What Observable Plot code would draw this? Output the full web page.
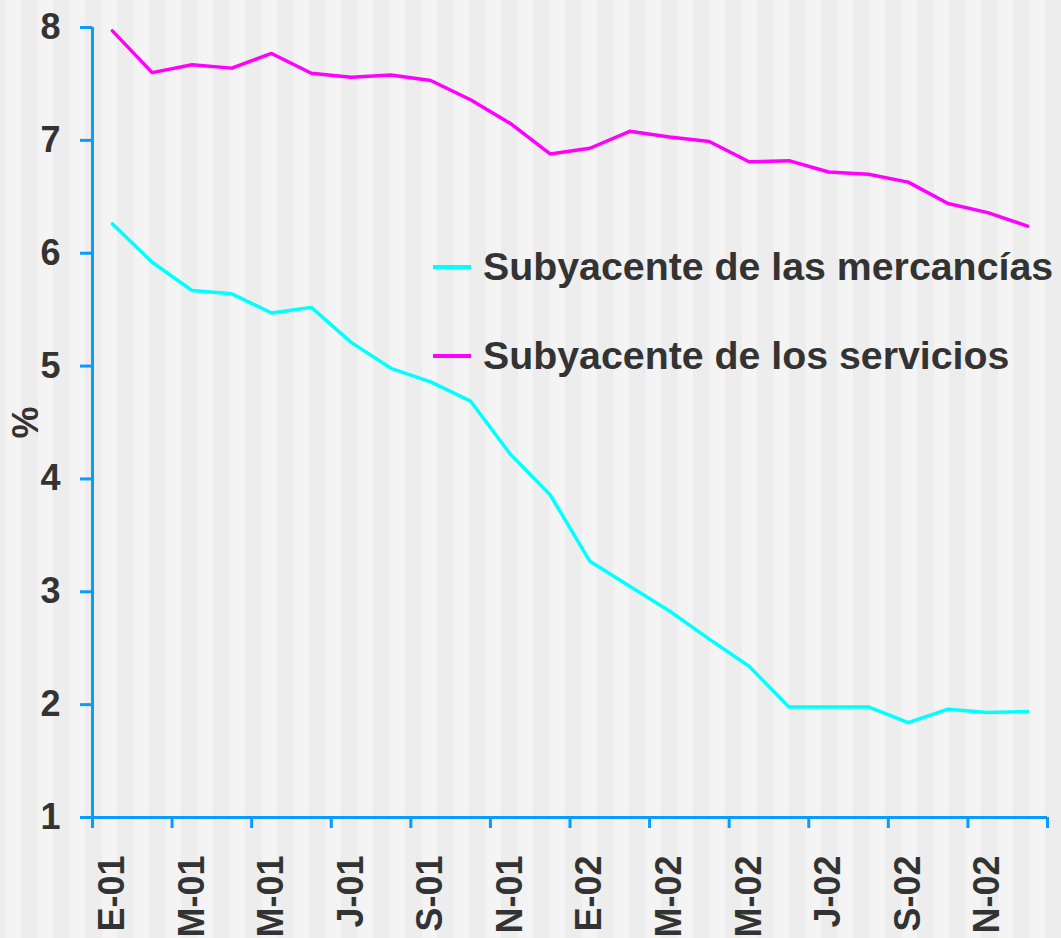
<!DOCTYPE html>
<html>
<head>
<meta charset="utf-8">
<script src="https://cdn.jsdelivr.net/npm/d3@7"></script>
<script src="https://cdn.jsdelivr.net/npm/@observablehq/plot@0.6"></script>
<style>
  html, body { margin: 0; padding: 0; }
  body {
    width: 1061px; height: 938px; overflow: hidden;
    background-color: #ededed;
    background-image: linear-gradient(90deg, #f4f4f4 0px, #f4f4f4 15px, #ededed 15px, #ededed 32px);
    background-size: 32px 100%;
    background-position: 6px 0;
    background-repeat: repeat-x;
    font-family: "Liberation Sans", Arial, sans-serif;
  }
  #wrap { position: relative; width: 1061px; height: 938px; }
  #legend { position: absolute; left: 433px; top: 244px; }
  .item { display: flex; align-items: center; height: 45px; margin-bottom: 44px; }
  .swatch { width: 38px; height: 4px; margin-right: 12px; }
  .lab { font-size: 39.3px; font-weight: bold; color: #333333; white-space: nowrap; }
</style>
</head>
<body>
<div id="wrap"><div id="legend"></div></div>
<script>
// Months (Jan 2001 – Dec 2002)
const months = ["E-01","F-01","M-01","A-01","M-01","J-01","J-01","A-01","S-01","O-01","N-01","D-01",
                "E-02","F-02","M-02","A-02","M-02","J-02","J-02","A-02","S-02","O-02","N-02","D-02"];
// Tick labels shown every two months
const tickLabels = ["E-01","M-01","M-01","J-01","S-01","N-01","E-02","M-02","M-02","J-02","S-02","N-02"];
const yTicks = [1,2,3,4,5,6,7,8];

const seriesNames = ["Subyacente de las mercancías", "Subyacente de los servicios"];
const seriesColors = ["#00FFFF", "#FF00FF"];

const mercancias = [6.26,5.92,5.67,5.64,5.47,5.52,5.21,4.98,4.86,4.69,4.22,3.86,
                    3.27,3.05,2.83,2.58,2.34,1.98,1.98,1.98,1.84,1.96,1.93,1.94];
const servicios  = [7.97,7.60,7.67,7.64,7.77,7.595,7.56,7.58,7.53,7.36,7.15,6.88,
                    6.93,7.08,7.03,6.99,6.81,6.82,6.72,6.70,6.63,6.44,6.36,6.24];

const data = [];
months.forEach((m, i) => {
  data.push({month: m, pos: i + 0.5, value: mercancias[i], series: seriesNames[0]});
  data.push({month: m, pos: i + 0.5, value: servicios[i], series: seriesNames[1]});
});

const boundaryTicks = d3.range(0, months.length + 1, 2);
const labelPositions = tickLabels.map((_, k) => k * 2 + 0.5);

const axisColor = "#0A9BFF";
const textColor = "#333333";
const font = "Liberation Sans, Arial, sans-serif";

const chart = Plot.plot({
  width: 1061,
  height: 938,
  marginLeft: 92,
  marginRight: 14,
  marginTop: 27,
  marginBottom: 121,
  style: {background: "transparent", fontFamily: font},
  x: {type: "linear", domain: [0, months.length]},
  y: {domain: [1, 8]},
  color: {domain: seriesNames, range: seriesColors},
  marks: [
    Plot.line(data, {x: "pos", y: "value", z: "series", stroke: "series", strokeWidth: 3.5}),
    Plot.ruleX([0], {stroke: axisColor, strokeWidth: 3}),
    Plot.ruleY([1], {stroke: axisColor, strokeWidth: 3}),
    Plot.axisY(yTicks, {
      tickSize: 12, tickPadding: 20, stroke: axisColor, strokeWidth: 3, tickFormat: (d) => String(d),
      fill: textColor, fontSize: 36, fontWeight: "bold", fontFamily: font,
      label: "%", labelAnchor: "center", labelArrow: "none", labelOffset: 80
    }),
    Plot.axisX(boundaryTicks, {
      tickSize: 11, stroke: axisColor, strokeWidth: 3, tickFormat: () => "", label: null
    }),
    Plot.axisX(labelPositions, {
      tickSize: 0, tickPadding: 38, tickRotate: -90,
      tickFormat: (d) => tickLabels[Math.round((d - 0.5) / 2)],
      fill: textColor, fontSize: 36, fontWeight: "bold", fontFamily: font, label: null
    })
  ]
});
document.getElementById("wrap").prepend(chart);

const legend = document.getElementById("legend");
seriesNames.forEach((name, i) => {
  const item = document.createElement("div");
  item.className = "item";
  const sw = document.createElement("div");
  sw.className = "swatch";
  sw.style.background = seriesColors[i];
  const lab = document.createElement("div");
  lab.className = "lab";
  lab.textContent = name;
  item.appendChild(sw);
  item.appendChild(lab);
  legend.appendChild(item);
});
</script>
</body>
</html>
